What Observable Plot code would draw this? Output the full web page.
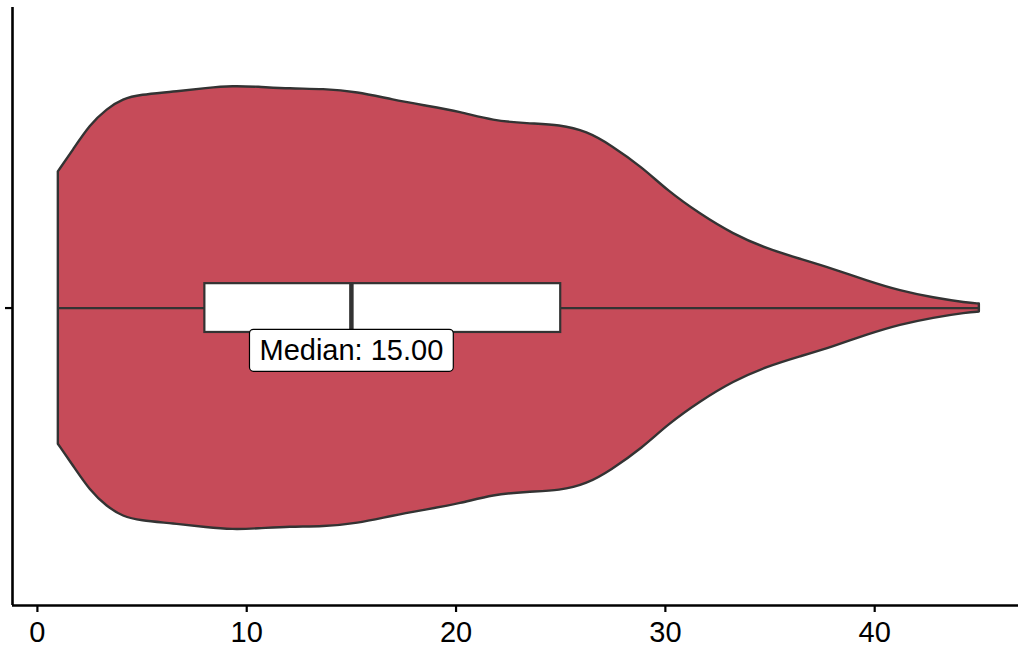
<!DOCTYPE html>
<html><head><meta charset="utf-8">
<script src="https://cdn.jsdelivr.net/npm/d3@7"></script>
<script src="https://cdn.jsdelivr.net/npm/@observablehq/plot@0.6"></script>
<style>
html,body{margin:0;padding:0;background:#fff;}
#chart svg{display:block;}
</style></head><body><div id="chart"></div>
<script>
// Violin outline: value along x, relative kernel density (half-width)
const violinValue = [1.0, 1.72, 2.53, 3.34, 4.11, 4.92, 6.5, 8.12, 9.36, 10.51, 12.09, 13.66, 15.29, 17.01, 18.63, 20.21, 21.79, 23.41, 24.99, 26.28, 27.38, 28.95, 30.1, 31.68, 33.25, 34.88, 36.45, 38.03, 39.66, 41.23, 42.81, 44.43, 45.0];
const violinDensity = [0.614, 0.712, 0.825, 0.897, 0.942, 0.960, 0.973, 0.991, 1.0, 0.996, 0.987, 0.987, 0.973, 0.937, 0.910, 0.883, 0.843, 0.830, 0.825, 0.794, 0.735, 0.630, 0.529, 0.422, 0.332, 0.265, 0.220, 0.175, 0.121, 0.076, 0.045, 0.022, 0.018];
// Box-plot summary
const whiskerRange = [1, 45];
const quartileRange = [8, 25];
const medianValue = 15;
const xTicks = [0, 10, 20, 30, 40];

const violin = violinValue.map((v, i) => ({v, d: violinDensity[i]}));

const xDomain = [-1.19, 46.87];
const yDomain = [-1.341, 1.355];
const boxHalf = 0.11;
const font = "'Liberation Sans', Arial, Helvetica, sans-serif";

const chart = Plot.plot({
  width: 1020, height: 648,
  marginLeft: 12, marginRight: 2, marginTop: 7, marginBottom: 43,
  style: {fontFamily: font, fontSize: "29px", color: "#000", background: "#fff"},
  x: {domain: xDomain},
  y: {domain: yDomain},
  marks: [
    Plot.areaY(violin, {x: "v", y1: d => -d.d, y2: d => d.d, fill: "#c64b59", stroke: "#333333", strokeWidth: 2.4, curve: "basis"}),
    Plot.ruleY([0], {x1: whiskerRange[0], x2: whiskerRange[1], stroke: "#333333", strokeWidth: 2.2}),
    Plot.rect([quartileRange], {x1: d => d[0], x2: d => d[1], y1: -boxHalf, y2: boxHalf, fill: "white", stroke: "#333333", strokeWidth: 2.2}),
    Plot.ruleX([medianValue], {y1: -boxHalf, y2: boxHalf, stroke: "#333333", strokeWidth: 4.5}),
    Plot.text([medianValue], {x: d => d, y: 0, dy: 43, text: d => `Median: ${d.toFixed(2)}`, fontSize: 29, fill: "black", lineAnchor: "middle"}),
    Plot.axisX({ticks: xTicks, tickSize: 7, tickPadding: 9, fontSize: 29, strokeWidth: 2.2, label: null}),
    Plot.axisY({ticks: [0], tickSize: 7, tickFormat: () => "", strokeWidth: 2.2, label: null}),
    Plot.ruleX([xDomain[0]], {stroke: "black", strokeWidth: 2.6}),
    Plot.ruleY([yDomain[0]], {stroke: "black", strokeWidth: 2.6})
  ]
});
document.getElementById("chart").appendChild(chart);

// white rounded label box behind the median annotation
chart.querySelectorAll("text").forEach(t => {
  if (!t.textContent.startsWith("Median:")) return;
  const b = t.getBBox();
  const padX = 10, padY = 5;
  const r = document.createElementNS("http://www.w3.org/2000/svg", "rect");
  r.setAttribute("x", b.x - padX);
  r.setAttribute("y", b.y - padY);
  r.setAttribute("width", b.width + 2 * padX);
  r.setAttribute("height", b.height + 2 * padY);
  r.setAttribute("rx", 4);
  r.setAttribute("fill", "white");
  r.setAttribute("stroke", "black");
  r.setAttribute("stroke-width", 1.2);
  const tr = t.getAttribute("transform");
  if (tr) r.setAttribute("transform", tr);
  t.parentNode.insertBefore(r, t);
});
</script></body></html>
